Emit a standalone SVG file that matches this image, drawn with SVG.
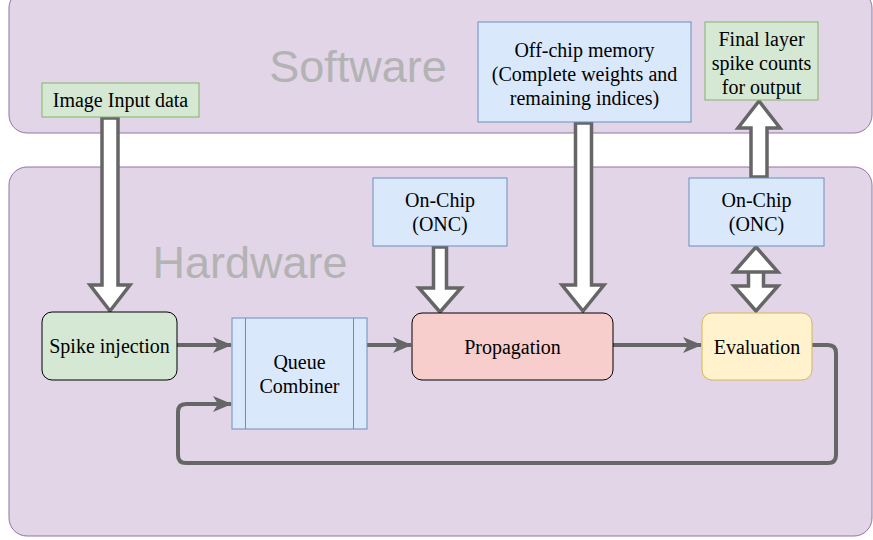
<svg xmlns="http://www.w3.org/2000/svg" width="873" height="540" viewBox="0 0 873 540">
<defs>
<marker id="ah" viewBox="0 0 19 16" refX="18" refY="8" markerWidth="19" markerHeight="16" markerUnits="userSpaceOnUse" orient="auto">
<path d="M0,0 L19,8 L0,16 L5,8 Z" fill="#666666"/>
</marker>
<style>
.panel{fill:#e1d5e7;stroke:#9673a6;stroke-width:1}
.big{font-family:"Liberation Sans",Arial,sans-serif;font-size:45px;fill:#b3b3b3;text-anchor:middle}
.t{font-family:"Liberation Serif","Times New Roman",serif;font-size:20px;fill:#000;text-anchor:middle}
.green{fill:#d5e8d4;stroke:#82b366;stroke-width:1}
.blue{fill:#dae8fc;stroke:#6c8ebf;stroke-width:1}
.flex{fill:#ffffff;stroke:#666666;stroke-width:3.5;stroke-linejoin:miter}
.conn{fill:none;stroke:#666666;stroke-width:4}
</style>
</defs>
<g id="software">
<rect class="panel" x="9" y="-10" width="863" height="143" rx="18"/>
<text class="big" x="358" y="82">Software</text>
</g>
<g id="hardware">
<rect class="panel" x="9" y="167" width="863" height="369" rx="18"/>
<text class="big" x="250" y="278">Hardware</text>
</g>
<g id="connectors">
<path class="flex" d="M102,118 L118,118 L118,285 L130,285 L110,311 L90,285 L102,285 Z"/>
<path class="flex" d="M433.5,247 L446.5,247 L446.5,288 L461,288 L440,312 L419,288 L433.5,288 Z"/>
<path class="flex" d="M575.5,123 L591.5,123 L591.5,285 L604,285 L583,311 L562,285 L575.5,285 Z"/>
<path class="flex" d="M751,177 L767,177 L767,128 L780,128 L759,101 L738,128 L751,128 Z"/>
<path class="flex" d="M748.5,272 L763.5,272 L763.5,286 L778,286 L756,311 L734,286 L748.5,286 L748.5,272 L734,272 L756,247 L778,272 L763.5,272"/>
<path class="conn" marker-end="url(#ah)" d="M177,345 L231,345"/>
<path class="conn" marker-end="url(#ah)" d="M367,345 L411,345"/>
<path class="conn" marker-end="url(#ah)" d="M613,345 L701,345"/>
<path class="conn" marker-end="url(#ah)" d="M812,345 L828,345 Q836,345 836,353 L836,455 Q836,463 828,463 L186,463 Q178,463 178,455 L178,412 Q178,404 186,404 L231,404"/>
</g>
<g id="image-input">
<rect class="green" x="42" y="83" width="157" height="34"/>
<text class="t" x="120.5" y="107">Image Input data</text>
</g>
<g id="off-chip">
<rect class="blue" x="478" y="22" width="213" height="100"/>
<text class="t" x="584.5" y="57">Off-chip memory</text>
<text class="t" x="584.5" y="81">(Complete weights and</text>
<text class="t" x="584.5" y="105">remaining indices)</text>
</g>
<g id="final-layer">
<rect class="green" x="705" y="22" width="113" height="78"/>
<text class="t" x="761.5" y="46">Final layer</text>
<text class="t" x="761.5" y="70">spike counts</text>
<text class="t" x="761.5" y="94">for output</text>
</g>
<g id="onc-left">
<rect class="blue" x="373" y="178" width="134" height="68"/>
<text class="t" x="440" y="207">On-Chip</text>
<text class="t" x="440" y="231">(ONC)</text>
</g>
<g id="onc-right">
<rect class="blue" x="689" y="178" width="135" height="68"/>
<text class="t" x="756.5" y="207">On-Chip</text>
<text class="t" x="756.5" y="231">(ONC)</text>
</g>
<g id="spike-injection">
<rect x="42" y="312" width="135" height="68" rx="10" fill="#d5e8d4" stroke="#000" stroke-width="1"/>
<text class="t" x="109.5" y="353">Spike injection</text>
</g>
<g id="queue-combiner">
<rect class="blue" x="232" y="318" width="135" height="111"/>
<line x1="245.5" y1="318" x2="245.5" y2="429" stroke="#6c8ebf"/>
<line x1="353.5" y1="318" x2="353.5" y2="429" stroke="#6c8ebf"/>
<text class="t" x="299.5" y="369">Queue</text>
<text class="t" x="299.5" y="393">Combiner</text>
</g>
<g id="propagation">
<rect x="412" y="313" width="201" height="67" rx="10" fill="#f8cecc" stroke="#000" stroke-width="1"/>
<text class="t" x="512.5" y="354">Propagation</text>
</g>
<g id="evaluation">
<rect x="702" y="313" width="110" height="67" rx="10" fill="#fff2cc" stroke="#d6b656" stroke-width="1"/>
<text class="t" x="757" y="354">Evaluation</text>
</g>
</svg>
